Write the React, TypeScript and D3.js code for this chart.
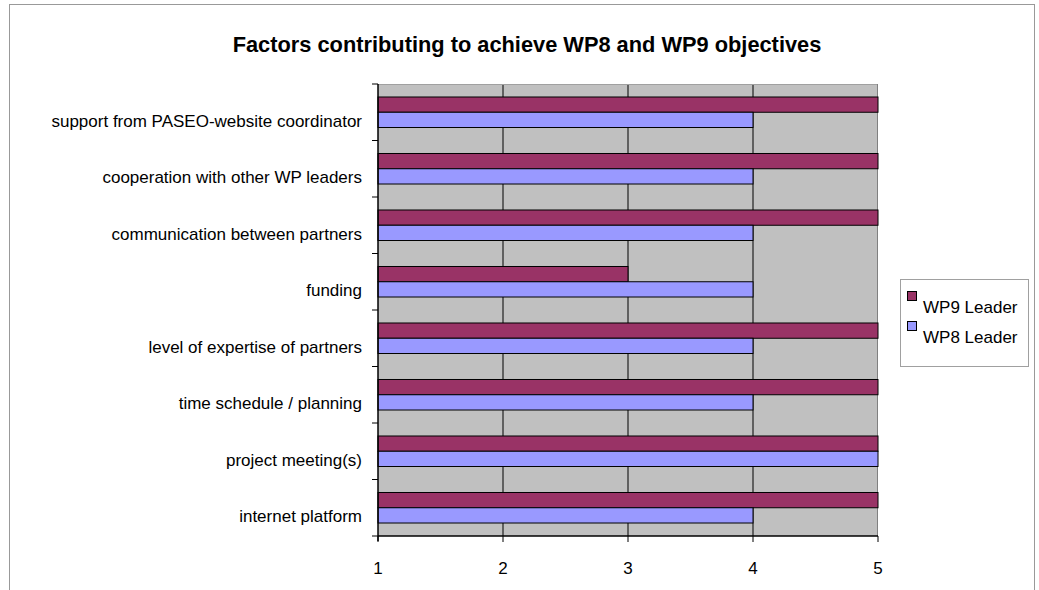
import React from "react";
import * as d3 from "d3";

const categories = [
  "support from PASEO-website coordinator",
  "cooperation with other WP leaders",
  "communication between partners",
  "funding",
  "level of expertise of partners",
  "time schedule / planning",
  "project meeting(s)",
  "internet platform",
];
const wp9Values = [5, 5, 5, 3, 5, 5, 5, 5];
const wp8Values = [4, 4, 4, 4, 4, 4, 5, 4];
const seriesNames = ["WP9 Leader", "WP8 Leader"];
const seriesColors = ["#993366", "#9999FF"];
const xTicks = [1, 2, 3, 4, 5];
const title = "Factors contributing to achieve WP8 and WP9 objectives";

export default function App() {
  const W = 1039, H = 590;
  const left = 378, right = 878, top = 84, bottom = 536;
  const x = d3.scaleLinear().domain([1, 5]).range([left, right]);
  const y = d3.scaleBand<string>().domain(categories).range([top, bottom]);
  const bw = y.bandwidth();
  const gap = bw * 0.23;
  const barH = (bw - 2 * gap) / 2;
  const font = "'Liberation Sans', Arial, sans-serif";
  const series = [wp9Values, wp8Values];

  return (
    <svg width={W} height={H} style={{ position: "absolute", left: 0, top: 0 }} fontFamily={font}>
      <rect x={0} y={0} width={W} height={H} fill="#fff" />
      <rect x={9.5} y={4.5} width={1025} height={H + 20} fill="#fff" stroke="#999" strokeWidth={1} />
      <text x={527} y={52} textAnchor="middle" fontSize={21.8} fontWeight="bold" fill="#000">{title}</text>
      {/* plot background */}
      <rect x={left} y={top} width={right - left} height={bottom - top} fill="#C0C0C0" />
      {/* gridlines */}
      {xTicks.slice(1, -1).map((t) => (
        <line key={t} x1={x(t)} x2={x(t)} y1={top} y2={bottom} stroke="#000" strokeWidth={1} />
      ))}
      <line x1={left} x2={right} y1={top + 0.5} y2={top + 0.5} stroke="#a0a0a0" strokeWidth={1} />
      <line x1={right - 0.5} x2={right - 0.5} y1={top} y2={bottom} stroke="#808080" strokeWidth={1} />
      {/* bars */}
      {categories.map((c, i) => (
        <g key={c}>
          {series.map((vals, s) => (
            <rect
              key={s}
              x={x(1)}
              y={(y(c) as number) + gap + s * barH}
              width={x(vals[i]) - x(1)}
              height={barH}
              fill={seriesColors[s]}
              stroke="#000"
              strokeWidth={1}
            />
          ))}
        </g>
      ))}
      {/* y axis */}
      <line x1={left} x2={left} y1={top} y2={bottom + 5} stroke="#000" strokeWidth={1.5} />
      {categories.map((c) => (
        <line key={"t" + c} x1={left - 6} x2={left} y1={y(c) as number} y2={y(c) as number} stroke="#000" />
      ))}
      <line x1={left - 6} x2={left} y1={bottom} y2={bottom} stroke="#000" />
      {categories.map((c) => (
        <text key={"l" + c} x={362} y={(y(c) as number) + bw / 2 + 14.5} textAnchor="end" fontSize={17} fill="#000">
          {c}
        </text>
      ))}
      {/* x axis */}
      <line x1={left} x2={right} y1={bottom} y2={bottom} stroke="#000" strokeWidth={1.5} />
      {xTicks.map((t) => (
        <g key={"x" + t}>
          <line x1={x(t)} x2={x(t)} y1={bottom} y2={bottom + 6} stroke="#000" />
          <text x={x(t)} y={574} textAnchor="middle" fontSize={17} fill="#000">{t}</text>
        </g>
      ))}
      {/* legend */}
      <rect x={900.5} y={279.5} width={128} height={87} fill="#fff" stroke="#a0a0a0" />
      {seriesNames.map((n, i) => (
        <g key={n}>
          <rect x={907.5} y={291.5 + i * 30} width={9} height={9} fill={seriesColors[i]} stroke="#000" />
          <text x={923} y={313 + i * 30} fontSize={17} fill="#000">{n}</text>
        </g>
      ))}
    </svg>
  );
}
